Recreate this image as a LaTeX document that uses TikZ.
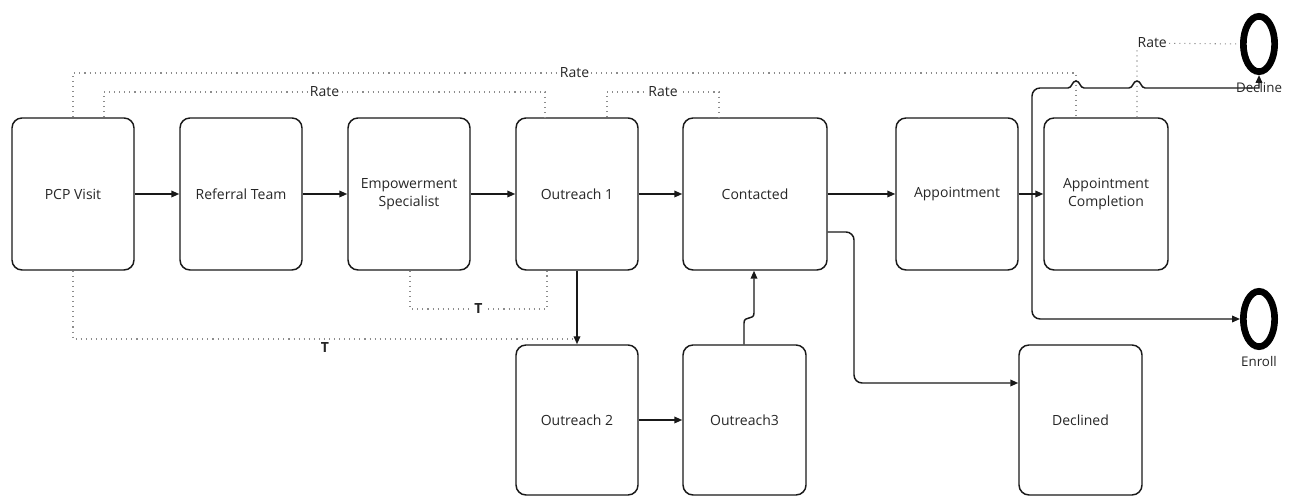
\documentclass[tikz,border=0pt]{standalone}
\usepackage{fontspec}
\setmainfont{Open Sans}
\usetikzlibrary{arrows.meta,shapes.geometric}
\begin{document}
\begin{tikzpicture}[x=0.75pt,y=-0.75pt,
  box/.style={draw=black!90, line width=1.1pt, rounded corners=7.5pt, align=center,
    font=\fontsize{10.5}{13.5}\selectfont, text=black!85, inner sep=2pt,
    minimum width=91.5pt, minimum height=114pt},
  conn/.style={draw=black!90, line width=1.1pt, -{Triangle[length=6pt,width=5pt]}},
  plain/.style={draw=black!90, line width=1.1pt},
  dotline/.style={draw=black!45, line width=0.8pt, dash pattern=on 0.8pt off 3pt},
  ratelbl/.style={fill=white, inner sep=1pt, font=\fontsize{10.5}{12}\selectfont, text=black!85},
  tlbl/.style={fill=white, inner sep=1pt, font=\bfseries\fontsize{10.5}{12}\selectfont, text=black!85},
  endstate/.style={draw=black, ellipse, line width=5pt, inner sep=0pt,
    minimum width=23.5pt, minimum height=41.5pt},
  statelbl/.style={inner sep=0pt, font=\fontsize{10}{12}\selectfont, text=black!85}
]
\useasboundingbox (0,0) rectangle (1293,498);

% process steps
\node[box] (pcp) at (73,194) {PCP Visit};
\node[box] (ref) at (241,194) {Referral Team};
\node[box] (es)  at (409,194) {Empowerment\\Specialist};
\node[box] (o1)  at (577,194) {Outreach 1};
\node[box, minimum width=108pt] (con) at (755,194) {Contacted};
\node[box] (app) at (957,194) {Appointment};
\node[box, minimum width=93pt] (apc) at (1106,194) {Appointment\\Completion};
\node[box, minimum height=112.5pt] (o2) at (577,420) {Outreach 2};
\node[box, minimum width=92.25pt, minimum height=112.5pt] (o3) at (744.5,420) {Outreach3};
\node[box, minimum width=92.25pt, minimum height=112.5pt] (dcl) at (1080.5,420) {Declined};

% end states
\node[endstate] (dec) at (1259,44) {};
\node[endstate] (enr) at (1259,319) {};

% rate measures (dotted)
\draw[dotline] (pcp.north) -- (73,73) -- node[ratelbl]{Rate} (1076,73) -- (1076,0 |- apc.north);
\draw[dotline] (104,0 |- pcp.north) -- (104,92) -- node[ratelbl]{Rate} (545,92) -- (545,0 |- o1.north);
\draw[dotline] (607,0 |- o1.north) -- (607,92) -- node[ratelbl]{Rate} (719,92) -- (719,0 |- con.north);
\draw[dotline] (1137,0 |- apc.north) -- (1137,43) -- (dec.west);
\node[ratelbl, anchor=west] (r4) at (1136,43) {Rate};

% time measures (dotted)
\draw[dotline] (410,0 |- es.south) -- (410,309) -- node[tlbl]{T} (547,309) -- (547,0 |- o1.south);
\draw[dotline] (pcp.south) -- (73,339) -- node[tlbl, below=1pt, fill=none]{T} (577,339) -- (o2.north);

% main flow
\draw[conn] (pcp.east) -- (ref.west);
\draw[conn] (ref.east) -- (es.west);
\draw[conn] (es.east) -- (o1.west);
\draw[conn] (o1.east) -- (con.west);
\draw[conn] (con.east) -- (app.west);
\draw[conn] (app.east) -- (apc.west);
\draw[conn] (o1.south) -- (o2.north);
\draw[conn] (o2.east) -- (o3.west);
\draw[conn] (744,0 |- o3.north) -- (744,323) .. controls (744,315) and (754,321) .. (754,313) -- (754,0 |- con.south);
\draw[conn, rounded corners=6pt] (con.east |- 0,232) -- (854,232) -- (854,383) -- (dcl.west |- 0,383);

% branches after the appointment
\coordinate (jx) at (1032,194);
\coordinate (jtop) at (1068,88);
\draw[plain] (app.east) -- (jx);
\draw[plain, rounded corners=6pt] (jx) -- (1032,88) -- (jtop);
% line jumps over the dotted rate lines
\draw[conn] (jtop)
  .. controls (1072,88) and (1072,81) .. (1076,81) .. controls (1080,81) and (1080,88) .. (1084,88)
  -- (1129,88)
  .. controls (1133,88) and (1133,81) .. (1137,81) .. controls (1141,81) and (1141,88) .. (1145,88)
  -- (1259,88) -- (dec.south);
\draw[conn, rounded corners=6pt] (jx) -- (1032,319) -- (enr.west);

\node[statelbl] (declbl) at (1259,88) {Decline};
\node[statelbl] (enrlbl) at (1259,362) {Enroll};
\end{tikzpicture}
\end{document}
